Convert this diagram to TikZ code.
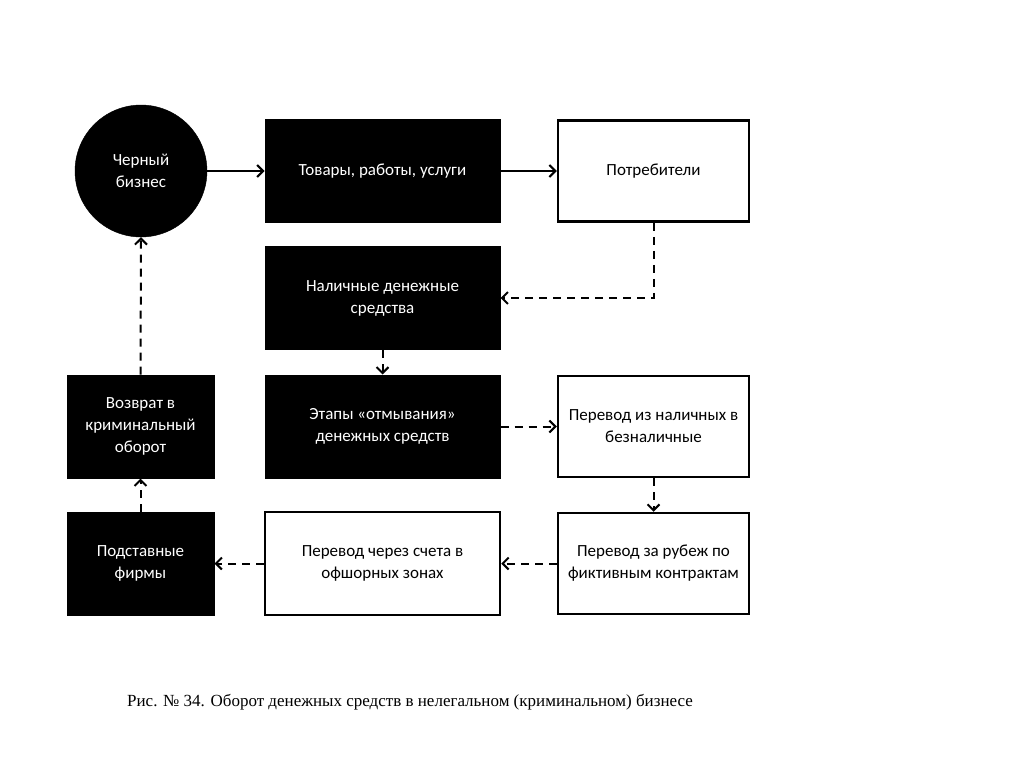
\documentclass[tikz,border=0pt]{standalone}
\usepackage{fontspec}
\setmainfont{Carlito}
\newfontfamily\capfont{Liberation Serif}
\usetikzlibrary{arrows.meta}
\begin{document}
\begin{tikzpicture}[x=1pt,y=-1pt,
  blackbox/.style={draw=black,fill=black,text=white,line width=1pt,minimum width=235pt,minimum height=103pt,align=center,inner sep=2pt,font=\fontsize{17}{22}\selectfont},
  whitebox/.style={draw=black,fill=white,text=black,line width=2.5pt,minimum width=191pt,minimum height=101pt,align=center,inner sep=2pt,font=\fontsize{17}{22}\selectfont},
  smallbox/.style={blackbox,minimum width=147pt},
  flow/.style={line width=2pt,-{Straight Barb[length=6pt,width=12pt,line width=2pt]}},
  dflow/.style={flow,dash pattern=on 8pt off 6pt}]
\useasboundingbox (0,0) rectangle (1024,768);
\node[circle,fill=black,draw=black,text=white,minimum size=132pt,inner sep=0pt,align=center,font=\fontsize{17}{22}\selectfont] (cb) at (141,171) {Черный\\бизнес};
\node[blackbox] (tov) at (382.5,171) {Товары, работы, услуги};
\node[whitebox] (potr) at (653.5,171) {Потребители};
\node[blackbox] (nal) at (382.5,298) {Наличные денежные\\средства};
\node[blackbox] (etap) at (382.5,426.5) {Этапы «отмывания»\\денежных средств};
\node[whitebox] (pnal) at (653.5,426.5) {Перевод из наличных в\\безналичные};
\node[smallbox] (vozv) at (140.5,426.5) {Возврат в\\криминальный\\оборот};
\node[smallbox] (podst) at (140.5,563.5) {Подставные\\фирмы};
\node[blackbox,draw=black,fill=white,text=black,line width=2.5pt] (off) at (382.5,563.5) {Перевод через счета в\\офшорных зонах};
\node[whitebox] (rub) at (653.5,563.5) {Перевод за рубеж по\\фиктивным контрактам};
\node[font=\capfont\fontsize{17}{20}\selectfont,anchor=west,inner sep=0pt] (cap) at (127,702) {Рис. № 34. Оборот денежных средств в нелегальном (криминальном) бизнесе};
\draw[flow] (cb.east) -- (tov.west);
\draw[flow] (tov.east) -- (potr.west);
\draw[dflow] (potr.south) |- (nal.east);
\draw[dflow] (nal.south) -- (etap.north);
\draw[dflow] (etap.east) -- (pnal.west);
\draw[dflow] (pnal.south) -- (rub.north);
\draw[dflow] (rub.west) -- (off.east);
\draw[dflow] (off.west) -- (podst.east);
\draw[dflow] (podst.north) -- (vozv.south);
\draw[dflow] (vozv.north) -- (cb.south);
\end{tikzpicture}
\end{document}
